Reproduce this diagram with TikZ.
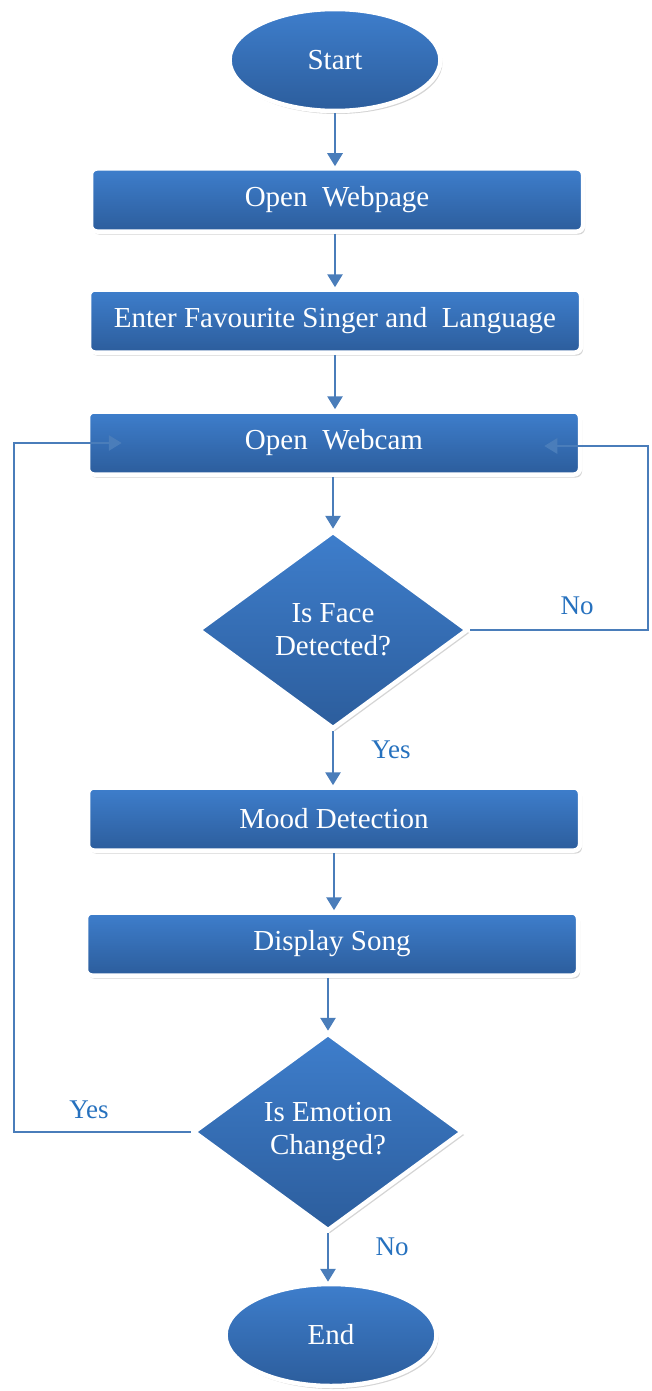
\documentclass[tikz,border=0pt]{standalone}
\usepackage{fontspec}
\setmainfont{Liberation Serif}
\usetikzlibrary{shapes.geometric,arrows.meta,shadows,calc}
\definecolor{topblue}{RGB}{62,126,204}
\definecolor{botblue}{RGB}{44,93,156}
\definecolor{arrowblue}{RGB}{74,125,186}
\definecolor{labelblue}{RGB}{38,113,190}
\tikzset{
  base/.style={top color=topblue, bottom color=botblue, draw=white, line width=4.5pt,
    text=white, font=\fontsize{29}{33}\selectfont, align=center, inner sep=0pt,
    drop shadow={shadow xshift=2pt, shadow yshift=-3pt, opacity=0.28, fill=black!60}},
  stepbox/.style={base, rectangle, rounded corners=6pt, minimum width=492pt, minimum height=63pt},
  terminal/.style={base, ellipse, minimum width=211pt, minimum height=102pt},
  decision/.style={base, diamond, minimum width=270pt, minimum height=198pt},
  conn/.style={draw=arrowblue, line width=2.8pt, -{Triangle[length=13pt,width=15pt]}},
  lbl/.style={text=labelblue, font=\fontsize{27}{31}\selectfont, inner sep=0pt}
}
\begin{document}
\begin{tikzpicture}[x=1pt,y=-1pt]
\useasboundingbox (0,0) rectangle (651,1391);
\node[terminal] (start) at (335,60) {Start};
\node[stepbox] (web) at (337,200) {Open\ \ Webpage};
\node[stepbox] (enter) at (335,321) {Enter Favourite Singer and\ \ Language};
\node[stepbox] (cam) at (334,443) {Open\ \ Webcam};
\node[decision] (face) at (333,630) {Is Face\\Detected?};
\node[stepbox] (mood) at (334,819) {Mood Detection};
\node[stepbox] (song) at (332,944) {Display Song};
\node[decision] (emo) at (328,1132) {Is Emotion\\Changed?};
\node[terminal] (end) at (331,1335) {End};

\coordinate (rcorner) at (648,446);
\coordinate (lcorner) at (14,443);

\draw[conn] (start.south) -- (start.south |- web.north);
\draw[conn] (web.south -| enter.north) -- (enter.north);
\draw[conn] (enter.south) -- (enter.south |- cam.north);
\draw[conn] (cam.south -| face.north) -- (face.north);
\draw[conn] (face.south) -- (face.south |- mood.north);
\draw[conn] (mood.south) -- (mood.south |- song.north);
\draw[conn] (song.south -| emo.north) -- (emo.north);
\draw[conn] (emo.south) -- (emo.south |- end.north);

\draw[conn] (face.east) -- (face.east -| rcorner) -- (rcorner) -- ($(cam.east)+(-38,3)$);
\draw[conn] (emo.west) -- (emo.west -| lcorner) -- (lcorner) -- ($(cam.west)+(36,0)$);

\node[lbl] (no1) at (577,606) {No};
\node[lbl] (yes1) at (391,750) {Yes};
\node[lbl] (yes2) at (89,1110) {Yes};
\node[lbl] (no2) at (392,1247) {No};
\end{tikzpicture}
\end{document}
